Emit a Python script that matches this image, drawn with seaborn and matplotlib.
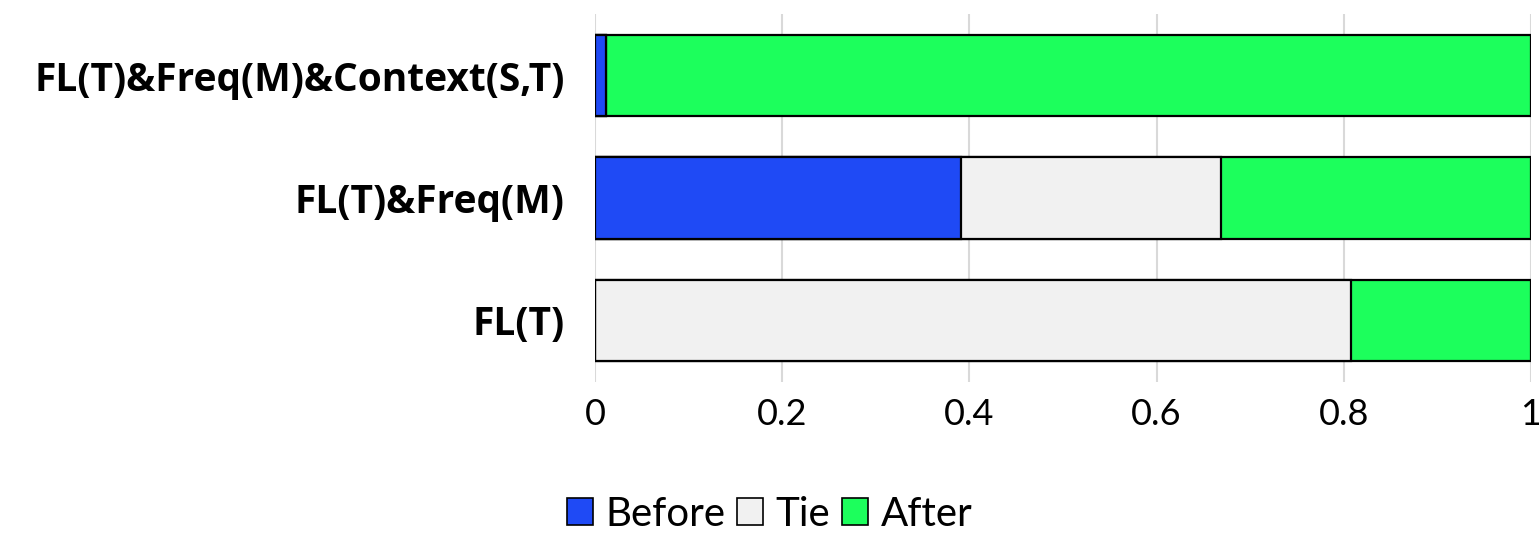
import pandas as pd
import seaborn as sns
import matplotlib.pyplot as plt
from matplotlib.patches import Patch

# Data
categories = ['FL(T)&Freq(M)&Context(S,T)', 'FL(T)&Freq(M)', 'FL(T)']
before = [0.012, 0.391, 0.0]
tie = [0.0, 0.278, 0.808]
after = [0.988, 0.331, 0.192]
series = ['Before', 'Tie', 'After']
colors = {'Before': '#1f4af5', 'Tie': '#f1f1f1', 'After': '#1cff5c'}
xticks = [0, 0.2, 0.4, 0.6, 0.8, 1]
xticklabels = ['0', '0.2', '0.4', '0.6', '0.8', '1']

df = pd.DataFrame({'cat': categories, 'Before': before, 'Tie': tie, 'After': after})
df['cum_tie'] = df['Before'] + df['Tie']
df['cum_after'] = df['cum_tie'] + df['After']

sns.set_style('white')
plt.rcParams['font.family'] = ['Lato', 'DejaVu Sans']
plt.rcParams['text.color'] = 'black'

fig = plt.figure(figsize=(15.39, 5.42), dpi=100)
ax = fig.add_axes([0.3866, 0.2957, 0.6082, 0.678])

# stacked bars: draw cumulative totals from the back to the front
for col, name in [('cum_after', 'After'), ('cum_tie', 'Tie'), ('Before', 'Before')]:
    sns.barplot(data=df, x=col, y='cat', order=categories, color=colors[name],
                orient='h', width=0.665, edgecolor='black', linewidth=1.6,
                saturation=1, ax=ax)

ax.set_xlim(0, 1)
ax.set_xticks(xticks)
ax.set_xticklabels(xticklabels, fontsize=26, color='black')
ax.set_yticklabels(categories, fontsize=28, fontweight='bold', color='black',
                   family=['Open Sans', 'DejaVu Sans'])
ax.set_xlabel('')
ax.set_ylabel('')
ax.tick_params(axis='x', length=0, pad=12)
ax.tick_params(axis='y', length=0, pad=22)
ax.xaxis.grid(True, color='#d9d9d9', linewidth=1.5)
ax.set_axisbelow(True)
for s in ax.spines.values():
    s.set_visible(False)

handles = [Patch(facecolor=colors[s], edgecolor='black', linewidth=1.2, label=s) for s in series]
fig.legend(handles=handles, loc='lower center', bbox_to_anchor=(0.5, -0.05), ncol=3,
           frameon=False, fontsize=29, handlelength=0.65, handleheight=0.65,
           handletextpad=0.3, columnspacing=0.3)

fig.savefig('out.png', dpi=100)
